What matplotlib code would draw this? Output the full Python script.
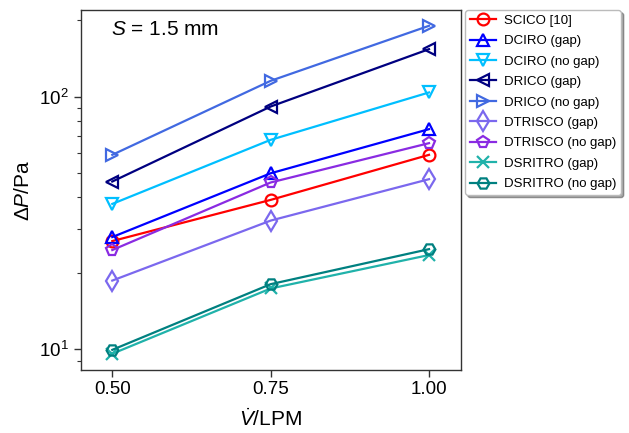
import matplotlib
matplotlib.use("Agg")
import matplotlib.pyplot as plt
from matplotlib.ticker import NullFormatter, FixedLocator

plt.rcParams['font.family'] = ['Liberation Sans', 'DejaVu Sans']
plt.rcParams['mathtext.fontset'] = 'custom'
plt.rcParams['mathtext.rm'] = 'Liberation Sans'
plt.rcParams['mathtext.it'] = 'Liberation Sans:italic'
plt.rcParams['mathtext.bf'] = 'Liberation Sans:bold'

flow = [0.50, 0.75, 1.00]
labels = ['SCICO [10]', 'DCIRO (gap)', 'DCIRO (no gap)', 'DRICO (gap)', 'DRICO (no gap)',
          'DTRISCO (gap)', 'DTRISCO (no gap)', 'DSRITRO (gap)', 'DSRITRO (no gap)']
scico = [26.8, 39.0, 58.8]
dciro_gap = [27.8, 49.7, 74.3]
dciro_nogap = [37.6, 67.4, 103.8]
drico_gap = [46.1, 91.3, 154.0]
drico_nogap = [58.8, 115.4, 190.5]
dtrisco_gap = [18.7, 32.3, 47.1]
dtrisco_nogap = [24.7, 45.7, 65.4]
dsritro_gap = [9.6, 17.4, 23.6]
dsritro_nogap = [9.95, 18.1, 24.9]
series = [scico, dciro_gap, dciro_nogap, drico_gap, drico_nogap,
          dtrisco_gap, dtrisco_nogap, dsritro_gap, dsritro_nogap]
colors = ['red', 'blue', 'deepskyblue', 'navy', 'royalblue',
          'mediumslateblue', 'blueviolet', 'lightseagreen', 'teal']
markers = ['o', '^', 'v', '<', '>', 'd', 'p', 'x', 'H']

fig = plt.figure(figsize=(6.29, 4.33), dpi=100)
ax = fig.add_axes([81/629, 63/433, 380/629, 360/433])

for y, lab, c, m in zip(series, labels, colors, markers):
    ms = 10 if m == 'd' else 8.5
    ax.plot(flow, y, color=c, marker=m, markersize=ms, markerfacecolor='none',
            markeredgewidth=1.6, linewidth=1.6, label=lab)

ax.set_yscale('log')
ax.set_ylim(8.28, 220)
ax.set_xlim(0.4506, 1.0505)
ax.xaxis.set_major_locator(FixedLocator(flow))
ax.set_xticklabels(['0.50', '0.75', '1.00'])
ax.yaxis.set_minor_formatter(NullFormatter())
ax.tick_params(axis='both', which='major', direction='out', length=5, width=1,
               labelsize=13.5, color='#333333', pad=4)
ax.tick_params(axis='x', which='major', pad=3)
ax.tick_params(axis='y', which='minor', direction='out', length=3, width=0.8, color='#333333')
for s in ax.spines.values():
    s.set_color('#333333')
    s.set_linewidth(1.0)

ax.set_xlabel(r'$\dot{V}$/LPM', fontsize=15, labelpad=7)
ax.set_ylabel(r'$\mathit{\Delta P}$/Pa', fontsize=15, labelpad=4)
ax.text(0.079, 0.947, r'$S$ = 1.5 mm', transform=ax.transAxes, fontsize=15,
        ha='left', va='center')

leg = fig.legend(loc='upper left', bbox_to_anchor=(465/629, 1 - 10/433), fontsize=9.5,
                 shadow=True, fancybox=True, framealpha=1, edgecolor='#bbbbbb',
                 handlelength=2.0, borderpad=0.35, labelspacing=0.62, handletextpad=0.6,
                 borderaxespad=0)

fig.savefig('out.png', dpi=100)
